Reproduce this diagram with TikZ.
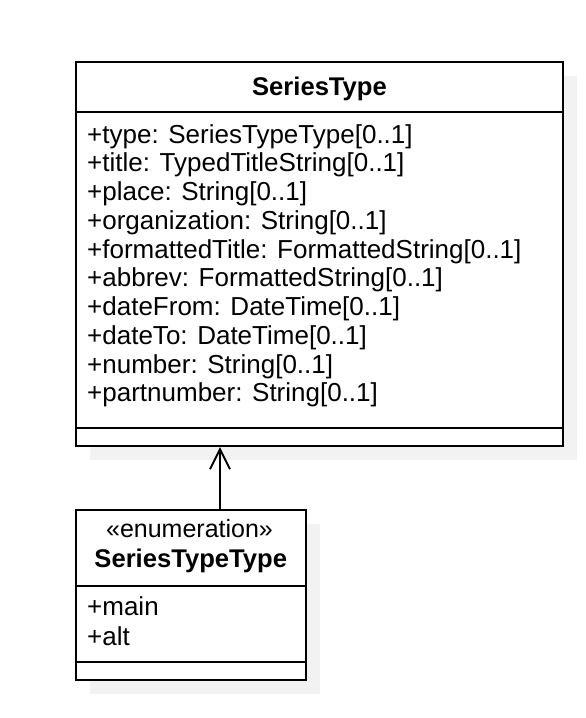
\documentclass[tikz,border=0pt]{standalone}
\usepackage{fontspec}
\setmainfont{Liberation Sans}
\usetikzlibrary{arrows.meta}
\definecolor{shadowgray}{HTML}{F2F2F2}
\tikzset{
  umlbox/.style={draw=black, line width=2pt, fill=white, rectangle, inner sep=0pt},
  shadowbox/.style={fill=shadowgray, draw=none, rectangle, inner sep=0pt},
  txt/.style={inner sep=0pt, font=\fontsize{26}{28.8}\selectfont},
  attr/.style={txt, anchor=base west},
  ttl/.style={txt, anchor=base, font=\fontsize{25.6}{28.8}\selectfont\bfseries},
  stereo/.style={txt, anchor=base, font=\fontsize{25}{28.8}\selectfont},
  comp/.style={line width=2pt},
  assoc/.style={line width=2pt, -{Straight Barb[length=20pt,width=20pt,line width=2pt]}}
}
\begin{document}
\begin{tikzpicture}[x=1pt,y=-1pt]
\useasboundingbox (0,0) rectangle (586,718);
% shadows
\node[shadowbox, minimum width=487pt, minimum height=384pt] (seriesshadow) at (333.5,268) {};
\node[shadowbox, minimum width=230pt, minimum height=170pt] (enumshadow) at (204.75,609) {};
% main class
\node[umlbox, minimum width=487pt, minimum height=384pt] (series) at (319.5,254) {};
\draw[comp] (76,112) coordinate (s1) -- (563,112) coordinate (s2);
\draw[comp] (76,428) coordinate (s3) -- (563,428) coordinate (s4);
\node[ttl] (seriesname) at (319.5,95) {SeriesType};
\foreach \t [count=\i from 0] in {%
  {+type: SeriesTypeType[0..1]},
  {+title: TypedTitleString[0..1]},
  {+place: String[0..1]},
  {+organization: String[0..1]},
  {+formattedTitle: FormattedString[0..1]},
  {+abbrev: FormattedString[0..1]},
  {+dateFrom: DateTime[0..1]},
  {+dateTo: DateTime[0..1]},
  {+number: String[0..1]},
  {+partnumber: String[0..1]}}
  \node[attr] (attr\i) at (87,143+28.75*\i) {\t};
% enumeration class
\node[umlbox, minimum width=230pt, minimum height=170pt] (enum) at (190.75,595) {};
\draw[comp] (76,586) coordinate (e1) -- (305.5,586) coordinate (e2);
\draw[comp] (76,662) coordinate (e3) -- (305.5,662) coordinate (e4);
\node[stereo] (enumstereo) at (189.5,537) {«enumeration»};
\node[ttl] (enumname) at (190.75,567) {SeriesTypeType};
\node[attr] (lit0) at (87,615) {+main};
\node[attr] (lit1) at (87,645) {+alt};
% association
\draw[assoc] (enum.north -| 220,0) -- (series.south -| 220,0);
\end{tikzpicture}
\end{document}
